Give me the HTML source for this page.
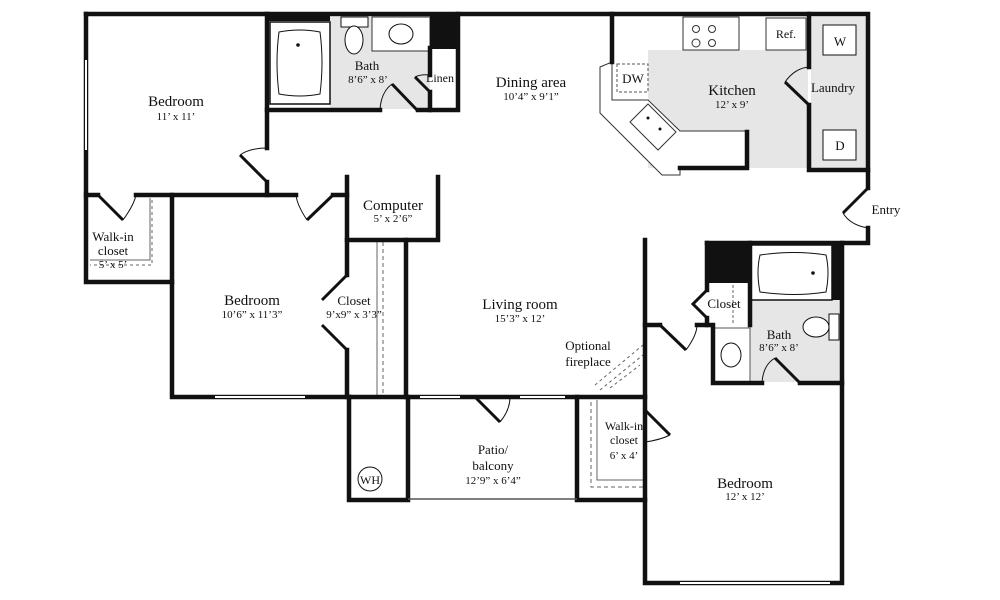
<!DOCTYPE html>
<html><head><meta charset="utf-8"><style>
html,body{margin:0;padding:0;background:#fff;}
svg{display:block;}
text{font-family:"Liberation Serif",serif;fill:#111;text-anchor:middle;}
.n{font-size:15px;}
.d{font-size:11px;}
</style></head><body>
<svg width="1000" height="600" viewBox="0 0 1000 600">
<!-- gray floors -->
<rect x="330" y="17" width="100" height="92" fill="#e6e6e6"/>
<rect x="648" y="50" width="160" height="118" fill="#e6e6e6"/>
<rect x="811" y="17" width="55" height="152" fill="#e6e6e6"/>
<rect x="750" y="300" width="92" height="82" fill="#e6e6e6"/>
<!-- counters white -->
<rect x="372" y="17" width="58" height="34" fill="#fff" stroke="#333" stroke-width="1"/>
<rect x="683" y="17" width="56" height="33" fill="#fff" stroke="#333" stroke-width="1"/>
<rect x="766" y="18" width="40" height="32" fill="#fff" stroke="#333" stroke-width="1"/>
<circle cx="696" cy="29" r="3.5" fill="none" stroke="#333"/><circle cx="712" cy="29" r="3.5" fill="none" stroke="#333"/>
<circle cx="696" cy="43" r="4" fill="none" stroke="#333"/><circle cx="712" cy="43" r="3.5" fill="none" stroke="#333"/>
<polygon points="600,67 612,62 612,100 648,100 680,131 747,131 747,168 680,168 680,175 662,175 600,113" fill="#fff" stroke="#333" stroke-width="1"/>
<polygon points="630,122 648,104 676,132 658,150" fill="none" stroke="#333" stroke-width="1"/>
<circle cx="648" cy="118" r="1.5" fill="#111"/><circle cx="660" cy="129" r="1.5" fill="#111"/>
<rect x="617" y="64" width="31" height="28" fill="none" stroke="#555" stroke-dasharray="3,2"/>
<!-- dark blocks -->
<rect x="267" y="14" width="63" height="7" fill="#111"/>
<rect x="430" y="14" width="28" height="35" fill="#111"/>
<rect x="707" y="243" width="43" height="40" fill="#111"/>
<rect x="832" y="243" width="10" height="57" fill="#111"/>
<!-- tubs, fixtures -->
<rect x="270" y="22" width="60" height="82" fill="#fff" stroke="#111" stroke-width="1.5"/>
<path d="M279,32 Q300,28 320,32 Q324,62 320,94 Q300,98 279,94 Q275,62 279,32Z" fill="none" stroke="#111"/>
<circle cx="298" cy="45" r="1.8" fill="#111"/>
<rect x="750" y="245" width="82" height="55" fill="#fff" stroke="#111" stroke-width="1.5"/>
<path d="M760,255 Q795,250 826,255 Q830,272 826,292 Q795,297 760,292 Q756,272 760,255Z" fill="none" stroke="#111"/>
<circle cx="813" cy="273" r="1.8" fill="#111"/>
<rect x="341" y="17" width="27" height="10" fill="#fff" stroke="#111"/><ellipse cx="354" cy="40" rx="9" ry="14" fill="#fff" stroke="#111"/>
<ellipse cx="401" cy="34" rx="12" ry="10" fill="#fff" stroke="#111"/>
<rect x="829" y="314" width="10" height="26" fill="#fff" stroke="#111"/><ellipse cx="816" cy="327" rx="13" ry="10" fill="#fff" stroke="#111"/>
<rect x="714" y="328" width="36" height="54" fill="#fff" stroke="#555" stroke-width="1"/>
<ellipse cx="731" cy="355" rx="10" ry="12" fill="#fff" stroke="#111"/>
<rect x="823" y="25" width="33" height="30" fill="#fff" stroke="#111"/><text x="840" y="46" class="d" style="font-size:13px">W</text>
<rect x="823" y="130" width="33" height="30" fill="#fff" stroke="#111"/><text x="840" y="150" class="d" style="font-size:13px">D</text>
<!-- dashed closet lines -->
<g stroke="#666" stroke-width="1" fill="none">
<path d="M90,260 H150 V198"/><path d="M152,200 V265 H90" stroke-dasharray="3,3"/>
<path d="M377,242 V395"/><path d="M383,242 V395" stroke-dasharray="4,3"/>
<path d="M597,400 V480 H645"/><path d="M591,402 V487 H645" stroke-dasharray="4,3"/>
<path d="M733,285 V323" stroke-dasharray="3,2"/>
<path d="M595,385 L643,345 M600,390 L643,355 M610,388 L640,365" stroke-dasharray="3,3"/>
</g>
<circle cx="370" cy="479" r="12" fill="#fff" stroke="#111"/><text x="370" y="484" class="d" style="font-size:12px">WH</text>
<!-- walls -->
<g stroke="#111" stroke-width="4.5" fill="none" stroke-linecap="square">
<path d="M86,14 H868 V188"/><path d="M868,228 V243 H707"/>
<path d="M86,14 V282 H172"/>
<path d="M267,14 V148"/><path d="M267,182 V195"/>
<path d="M86,195 H98"/><path d="M136,195 H296"/><path d="M333,195 H347"/>
<path d="M172,195 V397 H349"/>
<path d="M347,177 V275"/><path d="M347,350 V397"/>
<path d="M438,177 V240 H347"/>
<path d="M406,240 V397"/>
<path d="M349,397 V500 H408 V397"/>
<path d="M349,397 H645"/>
<path d="M267,110 H380"/><path d="M418,110 H458 V14"/>
<path d="M430,48 V75"/><path d="M430,92 V110"/>
<path d="M612,14 V62"/>
<path d="M680,168 H747 V132"/>
<path d="M809,14 V67"/><path d="M809,105 V170 H868"/>
<path d="M645,240 V583 H842 V243"/>
<path d="M645,325 H660"/><path d="M697,325 H713 V383 H762"/><path d="M800,383 H842"/>
<path d="M707,243 V290"/><path d="M707,318 V325"/><path d="M750,243 V325"/>
<path d="M577,397 V500 H645"/>
</g>
<path d="M408,499 H577" stroke="#555" stroke-width="1.5"/>
<!-- windows -->
<g stroke="#fff" stroke-width="2">
<path d="M86,60 V150"/><path d="M215,397 H305"/><path d="M420,397 H460"/><path d="M520,397 H565"/><path d="M680,583 H830"/>
</g>
<!-- doors -->
<g stroke="#111" stroke-width="3" fill="none">
<path d="M267,182 L240,155"/><path d="M98,195 L123,220"/><path d="M333,195 L307,220"/>
<path d="M347,275 L322,300 M347,350 L322,325"/>
<path d="M417,110 L392,84"/>
<path d="M430,92 L415,77"/>
<path d="M809,105 L785,82"/><path d="M868,188 L843,213"/>
<path d="M660,325 L686,350"/><path d="M800,383 L775,358"/>
<path d="M707,290 L693,304 L707,318"/>
<path d="M475,397 L500,422"/><path d="M645,410 L670,435"/>
</g>
<g stroke="#111" stroke-width="1" fill="none">
<path d="M240,155 Q250,148 267,148"/><path d="M123,220 Q134,205 136,195"/><path d="M307,220 Q297,205 296,195"/>
<path d="M392,84 Q381,92 380,110"/><path d="M415,77 Q421,74 430,75"/>
<path d="M785,82 Q795,68 809,67"/><path d="M843,213 Q850,225 868,228"/>
<path d="M686,350 Q697,335 697,325"/><path d="M775,358 Q763,365 762,383"/>
<path d="M500,422 Q510,410 510,397"/><path d="M670,435 Q660,440 645,442"/>
</g>
<!-- labels -->
<text x="176" y="106" class="n">Bedroom</text><text x="176" y="120" class="d">11’ x 11’</text>
<text x="367" y="70" class="n" style="font-size:13px">Bath</text><text x="368" y="83" class="d">8’6” x 8’</text>
<text x="440" y="82" class="d" style="font-size:12px">Linen</text>
<text x="531" y="87" class="n">Dining area</text><text x="531" y="100" class="d">10’4” x 9’1”</text>
<text x="633" y="83" class="d" style="font-size:13px">DW</text>
<text x="732" y="95" class="n">Kitchen</text><text x="732" y="108" class="d">12’ x 9’</text>
<text x="786" y="38" class="d" style="font-size:12px">Ref.</text>
<text x="833" y="92" class="d" style="font-size:13px">Laundry</text>
<text x="886" y="214" class="d" style="font-size:13px">Entry</text>
<text x="393" y="210" class="n">Computer</text><text x="393" y="222" class="d">5’ x 2’6”</text>
<text x="113" y="241" class="d" style="font-size:13px">Walk-in</text><text x="113" y="255" class="d" style="font-size:13px">closet</text><text x="113" y="268" class="d">5’ x 5’</text>
<text x="252" y="305" class="n">Bedroom</text><text x="252" y="318" class="d">10’6” x 11’3”</text>
<text x="354" y="305" class="d" style="font-size:13px">Closet</text><text x="354" y="318" class="d">9’x9” x 3’3”</text>
<text x="520" y="309" class="n">Living room</text><text x="520" y="322" class="d">15’3” x 12’</text>
<text x="588" y="350" class="d" style="font-size:13px">Optional</text><text x="588" y="366" class="d" style="font-size:13px">fireplace</text>
<text x="724" y="308" class="d" style="font-size:13px">Closet</text>
<text x="779" y="339" class="d" style="font-size:13px">Bath</text><text x="779" y="351" class="d">8’6” x 8’</text>
<text x="493" y="454" class="d" style="font-size:13px">Patio/</text><text x="493" y="470" class="d" style="font-size:13px">balcony</text><text x="493" y="484" class="d">12’9” x 6’4”</text>
<text x="624" y="430" class="d" style="font-size:12px">Walk-in</text><text x="624" y="444" class="d" style="font-size:12px">closet</text><text x="624" y="459" class="d">6’ x 4’</text>
<text x="745" y="488" class="n">Bedroom</text><text x="745" y="500" class="d">12’ x 12’</text>
</svg>
</body></html>
